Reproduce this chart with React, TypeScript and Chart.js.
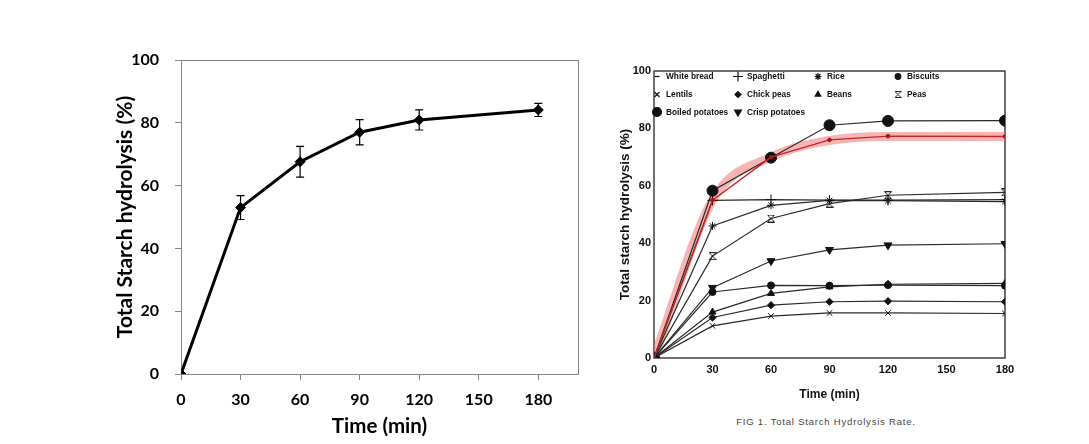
import React, { useEffect, useRef } from 'react';
import { Chart, registerables } from 'chart.js';
import { drawPoint } from 'chart.js/helpers';

Chart.register(...registerables);

// ---------- Left chart data ----------
const leftTimes = [0, 30, 60, 90, 120, 180];
const leftValues = [0, 53, 67.6, 77, 80.9, 84.1];
const leftErrors = [0, 3.8, 4.9, 4, 3.2, 2.1];
const leftXTicks = [0, 30, 60, 90, 120, 150, 180];
const leftYTicks = [0, 20, 40, 60, 80, 100];

// ---------- Right chart data ----------
const rightTimes = [0, 30, 60, 90, 120, 180];
const whiteBread = [0, 55, 70, 76, 77.3, 77.2];
const spaghetti = [0, 54.9, 55.2, 55, 55, 55.2];
const rice = [0, 46, 53.2, 54.9, 54.8, 54.5];
const biscuits = [0, 23, 25.3, 25.2, 25.4, 25.2];
const lentils = [0, 11.2, 14.6, 15.7, 15.7, 15.5];
const chickPeas = [0, 14.1, 18.4, 19.6, 19.8, 19.6];
const beans = [0, 16, 22.5, 24.8, 25.7, 26];
const peas = [0, 35.5, 48.6, 53.8, 56.7, 57.7];
const boiledPotatoes = [0, 58.3, 69.8, 81.1, 82.6, 82.7];
const crispPotatoes = [0, 24.5, 33.8, 37.7, 39.3, 39.8];
const referenceBand = [0, 55, 70, 75.8, 77.2, 77.2];
const rightXTicks = [0, 30, 60, 90, 120, 150, 180];
const rightYTicks = [0, 20, 40, 60, 80, 100];

const seriesNames = [
  'White bread', 'Spaghetti', 'Rice', 'Biscuits',
  'Lentils', 'Chick peas', 'Beans', 'Peas',
  'Boiled potatoes', 'Crisp potatoes',
];

function makePeasMarker(size: number) {
  const c = document.createElement('canvas');
  c.width = size;
  c.height = size;
  const g = c.getContext('2d')!;
  g.strokeStyle = '#222';
  g.lineWidth = 1;
  g.beginPath();
  g.moveTo(0.5, 0.5); g.lineTo(size - 0.5, 0.5);
  g.moveTo(0.5, size - 0.5); g.lineTo(size - 0.5, size - 0.5);
  g.moveTo(0.5, 0.5); g.lineTo(size - 0.5, size - 0.5);
  g.moveTo(size - 0.5, 0.5); g.lineTo(0.5, size - 0.5);
  g.stroke();
  return c;
}

function LeftChart() {
  const ref = useRef<HTMLCanvasElement>(null);
  useEffect(() => {
    const errorBars = {
      id: 'errorBars',
      afterDatasetsDraw(chart: any) {
        const ctx = chart.ctx;
        const xs = chart.scales.x;
        const ys = chart.scales.y;
        ctx.save();
        ctx.strokeStyle = '#000';
        ctx.lineWidth = 1.2;
        leftTimes.forEach((t, i) => {
          const e = leftErrors[i];
          if (!e) return;
          const x = xs.getPixelForValue(t);
          const y1 = ys.getPixelForValue(leftValues[i] + e);
          const y2 = ys.getPixelForValue(leftValues[i] - e);
          ctx.beginPath();
          ctx.moveTo(x, y1); ctx.lineTo(x, y2);
          ctx.moveTo(x - 4, y1); ctx.lineTo(x + 4, y1);
          ctx.moveTo(x - 4, y2); ctx.lineTo(x + 4, y2);
          ctx.stroke();
        });
        ctx.restore();
      },
    };
    const frame = {
      id: 'frame',
      beforeDatasetsDraw(chart: any) {
        const { left, top, right, bottom } = chart.chartArea;
        const ctx = chart.ctx;
        ctx.save();
        ctx.strokeStyle = '#858585';
        ctx.lineWidth = 1;
        ctx.strokeRect(Math.round(left) + 0.5, Math.round(top) + 0.5, Math.round(right - left), Math.round(bottom - top));
        ctx.restore();
      },
    };
    const font = 'Lato';
    const chart = new Chart(ref.current!, {
      type: 'line',
      data: {
        datasets: [{
          data: leftTimes.map((t, i) => ({ x: t, y: leftValues[i] })),
          borderColor: '#000',
          backgroundColor: '#000',
          borderWidth: 3,
          pointStyle: 'rectRot',
          pointRadius: 5,
          pointBorderWidth: 1,
          tension: 0,
        }],
      },
      options: {
        animation: false,
        responsive: false,
        devicePixelRatio: 1,
        layout: { padding: { top: 20, right: 12, left: 0, bottom: 0 } },
        plugins: { legend: { display: false }, tooltip: { enabled: false } },
        scales: {
          x: {
            type: 'linear', min: 0, max: 200,
            afterBuildTicks: (s: any) => { s.ticks = leftXTicks.map(v => ({ value: v })); },
            afterFit: (s: any) => { s.height = 70; s.paddingLeft = 0; s.paddingRight = 0; },
            grid: { display: true, drawOnChartArea: false, drawTicks: true, tickLength: 6, color: '#858585' },
            border: { display: false },
            ticks: { font: { family: font, weight: 'bold', size: 16 }, color: '#000', padding: 10, maxRotation: 0 },
            title: { display: true, text: 'Time (min)', font: { family: font, weight: 'bold', size: 20.5 }, color: '#000', padding: { top: 0, bottom: 5 } },
          },
          y: {
            type: 'linear', min: 0, max: 100,
            afterBuildTicks: (s: any) => { s.ticks = leftYTicks.map(v => ({ value: v })); },
            afterFit: (s: any) => { s.width = 91; s.paddingTop = 0; s.paddingBottom = 0; },
            grid: { display: true, drawOnChartArea: false, drawTicks: true, tickLength: 6, color: '#858585' },
            border: { display: false },
            ticks: { font: { family: font, weight: 'bold', size: 16 }, color: '#000', padding: 16 },
            title: { display: true, text: 'Total Starch hydrolysis (%)', font: { family: font, weight: 'bold', size: 21 }, color: '#000', padding: { top: 23, bottom: 0 } },
          },
        },
      } as any,
      plugins: [frame, errorBars],
    });
    return () => chart.destroy();
  }, []);
  return <canvas ref={ref} width={500} height={404} style={{ position: 'absolute', left: 90, top: 40 }} />;
}

function RightChart() {
  const ref = useRef<HTMLCanvasElement>(null);
  useEffect(() => {
    const peasImg = makePeasMarker(8);
    const peasImgLegend = makePeasMarker(7);
    const line = '#2a2a2a';
    const markers: any[] = [
      { pointStyle: 'circle', radius: 1.8, rotation: 0 },
      { pointStyle: 'cross', radius: 5, rotation: 0 },
      { pointStyle: 'star', radius: 4, rotation: 0 },
      { pointStyle: 'circle', radius: 3.5, rotation: 0 },
      { pointStyle: 'crossRot', radius: 4, rotation: 0 },
      { pointStyle: 'rectRot', radius: 3.6, rotation: 0 },
      { pointStyle: 'triangle', radius: 4, rotation: 0 },
      { pointStyle: peasImg, radius: 4, rotation: 0 },
      { pointStyle: 'circle', radius: 5.5, rotation: 0 },
      { pointStyle: 'triangle', radius: 4.6, rotation: 180 },
    ];
    const legendMarkers: any[] = [
      { pointStyle: 'line', radius: 2.5, rotation: 0 },
      { pointStyle: 'cross', radius: 5, rotation: 0 },
      { pointStyle: 'star', radius: 3.5, rotation: 0 },
      { pointStyle: 'circle', radius: 2.8, rotation: 0 },
      { pointStyle: 'crossRot', radius: 3.5, rotation: 0 },
      { pointStyle: 'rectRot', radius: 3, rotation: 0 },
      { pointStyle: 'triangle', radius: 3.2, rotation: 0 },
      { pointStyle: peasImgLegend, radius: 3.5, rotation: 0 },
      { pointStyle: 'circle', radius: 4.5, rotation: 0 },
      { pointStyle: 'triangle', radius: 4, rotation: 180 },
    ];
    const seriesData = [whiteBread, spaghetti, rice, biscuits, lentils, chickPeas, beans, peas, boiledPotatoes, crispPotatoes];
    const datasets: any[] = seriesData.map((vals, i) => ({
      label: seriesNames[i],
      data: rightTimes.map((t, j) => ({ x: t, y: vals[j] })),
      borderColor: i === 0 ? '#c62828' : line,
      backgroundColor: i === 0 ? '#a01818' : '#111',
      pointBorderColor: i === 0 ? '#a01818' : '#111',
      borderWidth: i === 0 ? 1.4 : 1.2,
      pointStyle: markers[i].pointStyle,
      pointRadius: markers[i].radius,
      pointRotation: markers[i].rotation,
      pointBorderWidth: 1,
      tension: 0,
      order: i === 0 ? 0 : 1,
    }));
    datasets.push({
      label: 'band',
      data: rightTimes.map((t, j) => ({ x: t, y: referenceBand[j] })),
      borderColor: 'rgba(238, 105, 105, 0.5)',
      borderWidth: 9,
      pointRadius: 0,
      tension: 0.4,
      cubicInterpolationMode: 'monotone',
      order: 20,
    });

    const frame = {
      id: 'frame2',
      beforeDatasetsDraw(chart: any) {
        const { left, top, right, bottom } = chart.chartArea;
        const ctx = chart.ctx;
        ctx.save();
        ctx.strokeStyle = '#333';
        ctx.lineWidth = 1.4;
        ctx.strokeRect(left, top, right - left, bottom - top);
        ctx.restore();
      },
    };
    const colOffsets = [3, 84, 164, 244];
    const rowOffsets = [5.5, 23.5, 41];
    const innerLegend = {
      id: 'innerLegend',
      afterDraw(chart: any) {
        const { left, top } = chart.chartArea;
        const ctx = chart.ctx;
        ctx.save();
        ctx.font = 'bold 8.3px "Liberation Sans"';
        ctx.textBaseline = 'middle';
        ctx.textAlign = 'left';
        seriesNames.forEach((name, i) => {
          const col = i % 4;
          const row = Math.floor(i / 4);
          const x = left + colOffsets[col];
          const y = top + rowOffsets[row];
          ctx.fillStyle = '#111';
          ctx.strokeStyle = '#111';
          ctx.lineWidth = 1.2;
          const m = legendMarkers[i];
          drawPoint(ctx, { pointStyle: m.pointStyle, rotation: m.rotation, radius: m.radius, borderWidth: 1 } as any, x, y);
          ctx.fillStyle = '#111';
          ctx.fillText(name, x + 9, y + 0.5);
        });
        ctx.restore();
      },
    };
    const font = 'Liberation Sans';
    const chart = new Chart(ref.current!, {
      type: 'line',
      data: { datasets },
      options: {
        animation: false,
        responsive: false,
        devicePixelRatio: 1,
        layout: { padding: { top: 21, right: 30, left: 0, bottom: 0 } },
        plugins: { legend: { display: false }, tooltip: { enabled: false } },
        scales: {
          x: {
            type: 'linear', min: 0, max: 180,
            afterBuildTicks: (s: any) => { s.ticks = rightXTicks.map(v => ({ value: v })); },
            afterFit: (s: any) => { s.height = 52; },
            grid: { display: false, drawTicks: false, tickLength: 0 },
            border: { display: false },
            ticks: { font: { family: font, weight: 'bold', size: 11 }, color: '#111', padding: 5, maxRotation: 0 },
            title: { display: true, text: 'Time (min)', font: { family: font, weight: 'bold', size: 12 }, color: '#111', padding: { top: 0, bottom: 8 } },
          },
          y: {
            type: 'linear', min: 0, max: 100,
            afterBuildTicks: (s: any) => { s.ticks = rightYTicks.map(v => ({ value: v })); },
            afterFit: (s: any) => { s.width = 59; },
            grid: { display: false, drawTicks: false, tickLength: 0 },
            border: { display: false },
            ticks: { font: { family: font, weight: 'bold', size: 11 }, color: '#111', padding: 3 },
            title: { display: true, text: 'Total starch hydrolysis (%)', font: { family: font, weight: 'bold', size: 13.5 }, color: '#111', padding: { top: 22, bottom: 0 } },
          },
        },
      } as any,
      plugins: [frame, innerLegend],
    });
    return () => chart.destroy();
  }, []);
  return <canvas ref={ref} width={440} height={360} style={{ position: 'absolute', left: 595, top: 50 }} />;
}

export default function App() {
  return (
    <div style={{ position: 'absolute', left: 0, top: 0, width: 1089, height: 444, background: '#fff', overflow: 'hidden' }}>
      <LeftChart />
      <RightChart />
      <div style={{ position: 'absolute', left: 706, top: 416, width: 240, textAlign: 'center', font: '9.5px "Liberation Sans"', letterSpacing: '0.8px', color: '#444' }}>
        FIG 1. Total Starch Hydrolysis Rate.
      </div>
    </div>
  );
}
